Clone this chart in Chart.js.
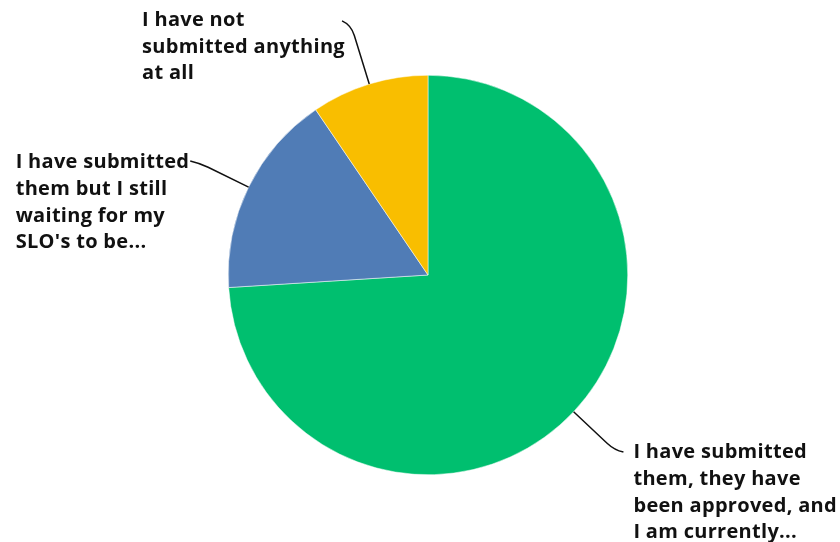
<!DOCTYPE html>
<html>
<head>
<meta charset="utf-8">
<script src="https://cdn.jsdelivr.net/npm/chart.js@4/dist/chart.umd.min.js"></script>
<style>
  html, body { margin: 0; padding: 0; background: #fff; }
  #wrap { width: 840px; height: 542px; }
</style>
</head>
<body>
<div id="wrap"><canvas id="c" width="840" height="542"></canvas></div>
<script>
const categories = [
  "I have submitted them, they have been approved, and I am currently...",
  "I have submitted them but I still waiting for my SLO's to be...",
  "I have not submitted anything at all"
];
const labelLines = [
  ["I have submitted", "them, they have", "been approved, and", "I am currently..."],
  ["I have submitted", "them but I still", "waiting for my", "SLO's to be..."],
  ["I have not", "submitted anything", "at all"]
];
const values = [74.0, 16.5, 9.5];
const colors = ["#00BF6F", "#507CB6", "#F9BE00"];

const FONT = "700 20px 'Open Sans', 'Noto Sans', sans-serif";

const leaderPlugin = {
  id: 'leaders',
  afterDatasetsDraw(chart) {
    const ctx = chart.ctx;
    const meta = chart.getDatasetMeta(0);
    const cfg = [
      { hook: 1, ext: 56, dy: 2, ty: 6, place: 'right', gap: 10 },
      { hook: -1, ext: 55, dy: -2, ty: 7, place: 'leftLine1', gap: 1 },
      { hook: -1, ext: 62, dy: -4, ty: 5, place: 'fixed', left: 143 }
    ];
    meta.data.forEach((arc, i) => {
      const p = arc.getProps(['x', 'y', 'startAngle', 'endAngle', 'outerRadius'], true);
      const mid = (p.startAngle + p.endAngle) / 2;
      const c = cfg[i];
      const cx = Math.cos(mid), sy = Math.sin(mid);
      const x0 = p.x + cx * p.outerRadius, y0 = p.y + sy * p.outerRadius;
      const x1 = p.x + cx * (p.outerRadius + c.ext), y1 = p.y + sy * (p.outerRadius + c.ext);
      const x2 = x1 + c.hook * 9, y2 = y1 + c.dy;
      ctx.save();
      ctx.strokeStyle = '#111';
      ctx.lineWidth = 1.5;
      ctx.beginPath();
      const bx = x0 + (x1 - x0) * 0.82, by = y0 + (y1 - y0) * 0.82;
      ctx.moveTo(x0, y0);
      ctx.lineTo(bx, by);
      ctx.quadraticCurveTo(x1, y1, x2, y2);
      ctx.stroke();
      ctx.fillStyle = '#111';
      ctx.font = FONT;
      if ('letterSpacing' in ctx) ctx.letterSpacing = '0.3px';
      ctx.textAlign = 'left';
      ctx.textBaseline = 'alphabetic';
      let tx;
      if (c.place === 'right') tx = x2 + c.gap;
      else if (c.place === 'leftLine1') tx = x2 - ctx.measureText(labelLines[i][0]).width - c.gap;
      else tx = x2 - 200;
      const ty = y2 + c.ty;
      labelLines[i].forEach((ln, k) => ctx.fillText(ln, tx, ty + k * 26.8));
      ctx.restore();
    });
  }
};

new Chart(document.getElementById('c'), {
  type: 'pie',
  data: {
    labels: categories,
    datasets: [{
      data: values,
      backgroundColor: colors,
      borderColor: '#ffffff',
      borderWidth: 0.5
    }]
  },
  options: {
    responsive: false,
    animation: false,
    layout: { padding: { left: 228, right: 212, top: 75, bottom: 67 } },
    plugins: { legend: { display: false }, tooltip: { enabled: false } }
  },
  plugins: [leaderPlugin]
});
</script>
</body>
</html>
